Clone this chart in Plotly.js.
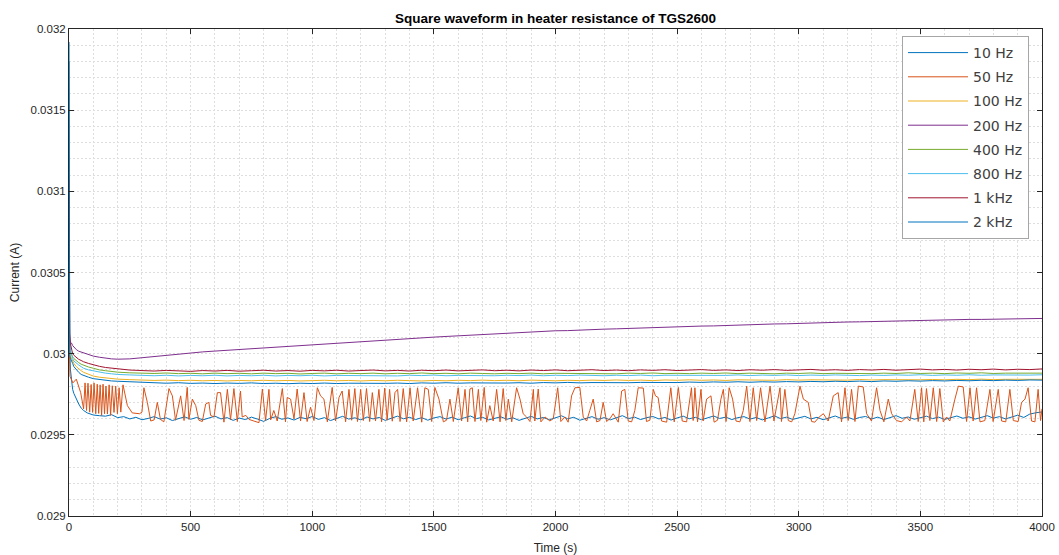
<!DOCTYPE html>
<html>
<head>
<meta charset="utf-8">
<script src="https://cdn.plot.ly/plotly-3.0.1.min.js"></script>
<style>
  html, body { margin: 0; padding: 0; background: #ffffff; }
  #chart { width: 1059px; height: 555px; }
</style>
</head>
<body>
<div id="chart"></div>
<script>
// ---------- DATA ----------
const seriesNames = ["10 Hz", "50 Hz", "100 Hz", "200 Hz", "400 Hz", "800 Hz", "1 kHz", "2 kHz"];
const seriesColors = ["#0072BD", "#D95319", "#EDB120", "#7E2F8E", "#77AC30", "#4DBEEE", "#A2142F", "#0072BD"];

const yTickVals = [0.029, 0.0295, 0.03, 0.0305, 0.031, 0.0315, 0.032];
const yTickText = ["0.029", "0.0295", "0.03", "0.0305", "0.031", "0.0315", "0.032"];
const xTickVals = [0, 500, 1000, 1500, 2000, 2500, 3000, 3500, 4000];
const xTickText = ["0", "500", "1000", "1500", "2000", "2500", "3000", "3500", "4000"];

// time grid (s) for the smooth traces
const tGrid = [
  0, 1, 3, 6, 10, 15, 20, 30, 40, 50, 60, 80, 100, 125, 150, 175, 200,
  250, 300, 350, 400, 450, 500, 550, 600, 650, 700,
  750, 800, 850, 900, 950, 1000, 1050, 1100, 1150, 1200,
  1250, 1300, 1350, 1400, 1450, 1500, 1550, 1600, 1650, 1700,
  1750, 1800, 1850, 1900, 1950, 2000, 2050, 2100, 2150, 2200,
  2250, 2300, 2350, 2400, 2450, 2500, 2550, 2600, 2650, 2700,
  2750, 2800, 2850, 2900, 2950, 3000, 3050, 3100, 3150, 3200,
  3250, 3300, 3350, 3400, 3450, 3500, 3550, 3600, 3650, 3700,
  3750, 3800, 3850, 3900, 3950, 4000
];

// 100 Hz
const i100 = [
  0.0302, 0.03006, 0.03, 0.029985, 0.02997, 0.029955, 0.02994, 0.02992, 0.029905, 0.029895, 0.029885, 0.029872, 0.029862, 0.029855, 0.02985, 0.029846, 0.029843,
  0.02984, 0.029837, 0.029835, 0.029837, 0.029834, 0.029836, 0.029833, 0.029835, 0.029832, 0.029835,
  0.029833, 0.029836, 0.029833, 0.029835, 0.029832, 0.029834, 0.029836, 0.029833, 0.029835, 0.029832,
  0.029835, 0.029833, 0.029836, 0.029834, 0.029832, 0.029835, 0.029833, 0.029836, 0.029834, 0.029837,
  0.029834, 0.029836, 0.029833, 0.029837, 0.029835, 0.029833, 0.029836, 0.029834, 0.029837, 0.029835,
  0.029838, 0.029835, 0.029837, 0.029834, 0.029838, 0.029836, 0.029839, 0.029836, 0.029838, 0.029835,
  0.029839, 0.029837, 0.029839, 0.029836, 0.02984, 0.029837, 0.029839, 0.029838, 0.02984, 0.029837,
  0.029841, 0.029838, 0.02984, 0.029839, 0.029842, 0.029839, 0.029841, 0.029839, 0.029842, 0.02984,
  0.029843, 0.02984, 0.029842, 0.029841, 0.029844, 0.029842
];

// 200 Hz
const i200 = [
  0.0303, 0.03015, 0.03009, 0.03007, 0.030066, 0.03005, 0.03004, 0.030025, 0.030015, 0.03001, 0.030006, 0.029995, 0.029985, 0.029978, 0.029972, 0.029968, 0.029966,
  0.029968, 0.029975, 0.029983, 0.029991, 0.029998, 0.030006, 0.030011, 0.030016, 0.030021, 0.030026,
  0.03003, 0.030034, 0.030039, 0.030043, 0.030048, 0.030053, 0.030058, 0.030063, 0.030068, 0.030073,
  0.030078, 0.030084, 0.030088, 0.030093, 0.030097, 0.030102, 0.030106, 0.03011, 0.030114, 0.030117,
  0.030124, 0.030129, 0.030131, 0.030135, 0.030137, 0.030141, 0.030142, 0.030146, 0.030148, 0.030151,
  0.030153, 0.030156, 0.030158, 0.030161, 0.030162, 0.030166, 0.030167, 0.03017, 0.030171, 0.030174,
  0.030175, 0.030178, 0.03018, 0.030183, 0.030184, 0.030187, 0.030188, 0.030191, 0.030192, 0.030195,
  0.030196, 0.030198, 0.030199, 0.030202, 0.030203, 0.030205, 0.030206, 0.030208, 0.030209, 0.030211,
  0.030211, 0.030213, 0.030214, 0.030216, 0.030215, 0.030217
];

// 400 Hz
const i400 = [
  0.0303, 0.03012, 0.03004, 0.03001, 0.029995, 0.02998, 0.02997, 0.029955, 0.029945, 0.029935, 0.029928, 0.029918, 0.02991, 0.0299, 0.029895, 0.02989, 0.029886,
  0.029882, 0.02988, 0.029878, 0.029881, 0.029877, 0.029879, 0.029876, 0.02988, 0.029877, 0.029879,
  0.029876, 0.02988, 0.029877, 0.029879, 0.029875, 0.029878, 0.02988, 0.029876, 0.029879, 0.029877,
  0.02988, 0.029876, 0.029879, 0.029877, 0.029881, 0.029877, 0.029879, 0.029876, 0.02988, 0.029878,
  0.029876, 0.029879, 0.029877, 0.02988, 0.029876, 0.029879, 0.029878, 0.029881, 0.029877, 0.029879,
  0.029876, 0.02988, 0.029878, 0.029881, 0.029877, 0.029879, 0.029877, 0.02988, 0.029878, 0.029881,
  0.029877, 0.02988, 0.029878, 0.029876, 0.02988, 0.029878, 0.029881, 0.029877, 0.029879, 0.029878,
  0.029881, 0.029877, 0.02988, 0.029878, 0.029882, 0.029878, 0.02988, 0.029877, 0.029881, 0.029879,
  0.029882, 0.029878, 0.02988, 0.029879, 0.029882, 0.02988
];

// 800 Hz
const i800 = [
  0.0319, 0.0304, 0.03008, 0.03002, 0.029995, 0.02997, 0.029955, 0.02994, 0.02993, 0.02992, 0.02991, 0.0299, 0.029893, 0.029886, 0.02988, 0.029876, 0.029872,
  0.029869, 0.029867, 0.029864, 0.029867, 0.029863, 0.029866, 0.029864, 0.029867, 0.029863, 0.029866,
  0.029864, 0.029867, 0.029863, 0.029866, 0.029864, 0.029867, 0.029863, 0.029866, 0.029865, 0.029868,
  0.029864, 0.029866, 0.029863, 0.029867, 0.029865, 0.029868, 0.029864, 0.029866, 0.029865, 0.029867,
  0.029864, 0.029867, 0.029865, 0.029868, 0.029864, 0.029867, 0.029865, 0.029868, 0.029866, 0.029864,
  0.029867, 0.029865, 0.029868, 0.029864, 0.029867, 0.029866, 0.029869, 0.029865, 0.029867, 0.029866,
  0.029869, 0.029865, 0.029868, 0.029866, 0.029869, 0.029865, 0.029868, 0.029866, 0.029869, 0.029867,
  0.029865, 0.029868, 0.029866, 0.029869, 0.029867, 0.02987, 0.029866, 0.029869, 0.029867, 0.02987,
  0.029867, 0.029869, 0.029868, 0.029871, 0.029868, 0.02987
];

// 1 kHz
const i1k = [
  0.03107, 0.03035, 0.03012, 0.03006, 0.030025, 0.03, 0.02999, 0.029975, 0.029965, 0.029958, 0.02995, 0.02994, 0.02993, 0.029922, 0.029915, 0.02991, 0.029905,
  0.029899, 0.029896, 0.029893, 0.029897, 0.029894, 0.029891, 0.029896, 0.029893, 0.029897, 0.029892,
  0.029895, 0.029898, 0.029893, 0.029896, 0.029892, 0.029897, 0.029894, 0.029898, 0.029893, 0.029896,
  0.029899, 0.029894, 0.029897, 0.029893, 0.029898, 0.029895, 0.029899, 0.029894, 0.029897, 0.0299,
  0.029895, 0.029898, 0.029894, 0.029899, 0.029896, 0.0299, 0.029895, 0.029898, 0.029901, 0.029896,
  0.029899, 0.029895, 0.0299, 0.029897, 0.029901, 0.029896, 0.029899, 0.029902, 0.029897, 0.0299,
  0.029896, 0.029901, 0.029898, 0.029902, 0.029897, 0.0299, 0.029903, 0.029898, 0.029901, 0.029897,
  0.029902, 0.029899, 0.029903, 0.029898, 0.029902, 0.029905, 0.0299, 0.029903, 0.029899, 0.029904,
  0.029901, 0.029905, 0.0299, 0.029904, 0.029902, 0.029906
];

// 2 kHz
const i2k = [
  0.0318, 0.03005, 0.02999, 0.02997, 0.02996, 0.02994, 0.02992, 0.0299, 0.029885, 0.029872, 0.029865, 0.029855, 0.029846, 0.02984, 0.029835, 0.029832, 0.02983,
  0.029826, 0.029822, 0.02982, 0.029818, 0.029821, 0.029817, 0.029819, 0.029816, 0.029819, 0.029817,
  0.02982, 0.029816, 0.029818, 0.029815, 0.029818, 0.029816, 0.029819, 0.029816, 0.029818, 0.029817,
  0.02982, 0.029817, 0.029819, 0.029816, 0.02982, 0.029818, 0.029821, 0.029818, 0.02982, 0.029819,
  0.029822, 0.029819, 0.029821, 0.029818, 0.029822, 0.02982, 0.029823, 0.02982, 0.029822, 0.029821,
  0.029824, 0.029821, 0.029823, 0.029822, 0.029825, 0.029822, 0.029825, 0.029823, 0.029826, 0.029824,
  0.029827, 0.029824, 0.029827, 0.029825, 0.029828, 0.029826, 0.029829, 0.029827, 0.02983, 0.029828,
  0.029831, 0.029828, 0.029832, 0.02983, 0.029833, 0.029831, 0.029834, 0.029832, 0.029835, 0.029833,
  0.029836, 0.029834, 0.029837, 0.029835, 0.029838, 0.029837
];

// 10 Hz (own, finer time grid)
const t10 = [
  0, 1, 3, 6, 10, 15, 20, 30, 40, 50, 60, 75,
  100, 125, 150, 175, 200, 225, 250, 275, 300, 325,
  350, 375, 400, 425, 450, 475, 500, 525, 550, 575,
  600, 625, 650, 675, 700, 725, 750, 775, 800, 825,
  850, 875, 900, 925, 950, 975, 1000, 1025, 1050, 1075,
  1100, 1125, 1150, 1175, 1200, 1225, 1250, 1275, 1300, 1325,
  1350, 1375, 1400, 1425, 1450, 1475, 1500, 1525, 1550, 1575,
  1600, 1625, 1650, 1675, 1700, 1725, 1750, 1775, 1800, 1825,
  1850, 1875, 1900, 1925, 1950, 1975, 2000, 2025, 2050, 2075,
  2100, 2125, 2150, 2175, 2200, 2225, 2250, 2275, 2300, 2325,
  2350, 2375, 2400, 2425, 2450, 2475, 2500, 2525, 2550, 2575,
  2600, 2625, 2650, 2675, 2700, 2725, 2750, 2775, 2800, 2825,
  2850, 2875, 2900, 2925, 2950, 2975, 3000, 3025, 3050, 3075,
  3100, 3125, 3150, 3175, 3200, 3225, 3250, 3275, 3300, 3325,
  3350, 3375, 3400, 3425, 3450, 3475, 3500, 3525, 3550, 3575,
  3600, 3625, 3650, 3675, 3700, 3725, 3750, 3775, 3800, 3825,
  3850, 3875, 3900, 3925, 3950, 3975, 4000
];
const i10 = [
  0.03192, 0.0305, 0.03002, 0.0299, 0.02982, 0.02978, 0.029755, 0.02972, 0.02969, 0.029665, 0.02965, 0.029635,
  0.029622, 0.029618, 0.029615, 0.029624, 0.029606, 0.029612, 0.029598, 0.029608, 0.029593, 0.029601,
  0.029612, 0.029597, 0.029605, 0.029588, 0.029602, 0.029611, 0.029596, 0.029607, 0.029592, 0.029604,
  0.029615, 0.029598, 0.029606, 0.029589, 0.029603, 0.029594, 0.029609, 0.029597, 0.029583, 0.029601,
  0.029612, 0.029596, 0.029604, 0.029591, 0.029608, 0.029599, 0.029613, 0.029595, 0.029606, 0.029588,
  0.029602, 0.029614, 0.029597, 0.029605, 0.029592, 0.02961, 0.029598, 0.029607, 0.029589, 0.029603,
  0.029615, 0.029599, 0.029608, 0.029594, 0.029606, 0.02959, 0.029604, 0.029612, 0.029597, 0.029609,
  0.029593, 0.029605, 0.029616, 0.0296, 0.029608, 0.029592, 0.029603, 0.029611, 0.029596, 0.029605,
  0.029589, 0.029602, 0.029614, 0.029598, 0.029607, 0.029593, 0.029604, 0.029617, 0.029599, 0.029608,
  0.02959, 0.029603, 0.029612, 0.029596, 0.029606, 0.029592, 0.029605, 0.029618, 0.0296, 0.029609,
  0.029594, 0.029606, 0.029613, 0.029598, 0.029607, 0.029591, 0.029604, 0.029615, 0.029599, 0.029608,
  0.029593, 0.029605, 0.029616, 0.029601, 0.029609, 0.029594, 0.029606, 0.029612, 0.029597, 0.029607,
  0.029592, 0.029604, 0.029617, 0.0296, 0.029609, 0.029595, 0.029606, 0.029614, 0.029598, 0.029608,
  0.029593, 0.029605, 0.029616, 0.029601, 0.02961, 0.029595, 0.029607, 0.029613, 0.029598, 0.029609,
  0.029594, 0.029606, 0.029618, 0.029602, 0.02961, 0.029596, 0.029607, 0.029615, 0.0296, 0.029609,
  0.029595, 0.029607, 0.029616, 0.029602, 0.029611, 0.029597, 0.029608, 0.029618, 0.029603, 0.029612,
  0.029598, 0.02961, 0.029621, 0.029607, 0.029628, 0.029636, 0.029641
];

// 50 Hz (switching trace: vertices read at its turning points)
const t50 = [
  0, 4, 16, 30, 48, 60, 66, 72, 78, 85,
  91, 97, 103, 110, 116, 122, 128, 134, 140, 146,
  152, 158, 165, 171, 178, 185, 192, 199, 206, 213,
  222, 240, 260, 290, 300, 308, 322, 336, 350, 363,
  376, 390, 411, 425, 438, 459, 473, 486, 493, 507,
  521, 534, 548, 562, 575, 582, 596, 610, 623, 637,
  651, 664, 678, 692, 705, 712, 727, 740, 760, 781,
  795, 808, 822, 829, 842, 856, 877, 890, 897, 911,
  925, 938, 952, 966, 979, 993, 1007, 1021, 1034, 1048,
  1062, 1082, 1096, 1110, 1123, 1137, 1151, 1162, 1175, 1186,
  1199, 1210, 1223, 1236, 1247, 1260, 1274, 1285, 1298, 1308,
  1318, 1329, 1340, 1351, 1361, 1374, 1388, 1402, 1415, 1433,
  1450, 1463, 1477, 1491, 1504, 1521, 1539, 1552, 1566, 1580,
  1600, 1614, 1628, 1639, 1648, 1658, 1669, 1683, 1693, 1707,
  1717, 1730, 1744, 1758, 1772, 1785, 1796, 1806, 1820, 1840,
  1854, 1867, 1881, 1895, 1909, 1915, 1929, 1940, 1957, 1977,
  1991, 2009, 2022, 2039, 2052, 2066, 2080, 2100, 2114, 2128,
  2141, 2155, 2169, 2183, 2196, 2210, 2224, 2237, 2258, 2272,
  2285, 2299, 2313, 2326, 2340, 2361, 2374, 2388, 2402, 2411,
  2422, 2436, 2457, 2474, 2488, 2505, 2521, 2539, 2559, 2566,
  2573, 2584, 2598, 2607, 2621, 2639, 2652, 2666, 2680, 2690,
  2701, 2714, 2728, 2742, 2758, 2772, 2786, 2799, 2813, 2827,
  2843, 2861, 2882, 2898, 2923, 2929, 2943, 2957, 2971, 2984,
  3005, 3019, 3039, 3053, 3066, 3084, 3101, 3121, 3142, 3162,
  3176, 3190, 3203, 3217, 3231, 3245, 3265, 3279, 3299, 3320,
  3334, 3350, 3368, 3382, 3402, 3423, 3443, 3457, 3477, 3491,
  3505, 3514, 3525, 3539, 3553, 3567, 3580, 3594, 3608, 3621,
  3642, 3656, 3676, 3690, 3704, 3717, 3731, 3745, 3765, 3786,
  3799, 3820, 3834, 3851, 3868, 3882, 3902, 3916, 3930, 3943,
  3957, 3971, 3984, 3994, 4000
];
const i50 = [
  0.03014, 0.02986, 0.02982, 0.029843, 0.02976, 0.02966, 0.02982, 0.02965, 0.029818, 0.02964,
  0.02981, 0.029638, 0.02982, 0.02963, 0.029812, 0.029632, 0.029808, 0.02962, 0.029812, 0.02963,
  0.0298, 0.029628, 0.029808, 0.02962, 0.029802, 0.029638, 0.0298, 0.02963, 0.02979, 0.02964,
  0.029808, 0.02968, 0.029635, 0.02963, 0.02964, 0.02979, 0.0297, 0.029585, 0.029592, 0.0297,
  0.029595, 0.02958, 0.029785, 0.02974, 0.02959, 0.02974, 0.029588, 0.029792, 0.029595, 0.02972,
  0.02968, 0.02959, 0.029582, 0.02969, 0.0297, 0.02962, 0.02961, 0.02976, 0.02976, 0.029578,
  0.02978, 0.029592, 0.029785, 0.029582, 0.02977, 0.02961, 0.02962, 0.029595, 0.029585, 0.029575,
  0.029782, 0.029588, 0.02978, 0.029592, 0.02965, 0.029585, 0.029785, 0.02958, 0.02973, 0.02972,
  0.029598, 0.029782, 0.029585, 0.02976, 0.029582, 0.02967, 0.029588, 0.02979, 0.02974, 0.02972,
  0.02958, 0.029792, 0.029585, 0.02973, 0.02977, 0.02958, 0.02978, 0.02959, 0.029785, 0.029582,
  0.02978, 0.029588, 0.029785, 0.029582, 0.02976, 0.029585, 0.02978, 0.02958, 0.029788, 0.02959,
  0.02978, 0.029584, 0.02976, 0.02978, 0.029582, 0.029785, 0.02958, 0.02979, 0.029585, 0.02979,
  0.029578, 0.02979, 0.02978, 0.029582, 0.029792, 0.02972, 0.02958, 0.02959, 0.02972, 0.029582,
  0.02979, 0.029585, 0.02978, 0.02958, 0.029782, 0.02979, 0.029582, 0.02978, 0.029588, 0.029792,
  0.029578, 0.02968, 0.029585, 0.02978, 0.02958, 0.029785, 0.029588, 0.02972, 0.02958, 0.02979,
  0.02972, 0.02963, 0.02961, 0.029582, 0.02978, 0.029585, 0.029782, 0.02958, 0.02961, 0.029585,
  0.0296, 0.02979, 0.029582, 0.02961, 0.029578, 0.02974, 0.02979, 0.029792, 0.02961, 0.029585,
  0.02965, 0.02972, 0.02958, 0.029588, 0.0297, 0.029582, 0.0296, 0.02963, 0.029578, 0.02977,
  0.02978, 0.029585, 0.02958, 0.02965, 0.02979, 0.029788, 0.029582, 0.02959, 0.02978, 0.02974,
  0.02973, 0.029585, 0.029578, 0.02979, 0.02958, 0.029792, 0.029585, 0.02958, 0.02979, 0.029588,
  0.02979, 0.02958, 0.02978, 0.029585, 0.02972, 0.02974, 0.029578, 0.02959, 0.02972, 0.02978,
  0.029582, 0.02979, 0.02972, 0.029585, 0.02958, 0.02965, 0.0298, 0.029582, 0.02979, 0.029588,
  0.02979, 0.02958, 0.0298, 0.029585, 0.02979, 0.029582, 0.02978, 0.029588, 0.02958, 0.02963,
  0.0298, 0.02972, 0.0297, 0.029582, 0.029578, 0.02961, 0.02963, 0.029585, 0.02974, 0.02976,
  0.02958, 0.02979, 0.029588, 0.02978, 0.029582, 0.0298, 0.029795, 0.02963, 0.029585, 0.02979,
  0.02965, 0.02958, 0.02972, 0.02963, 0.029588, 0.02958, 0.02961, 0.029585, 0.02978, 0.029582,
  0.02979, 0.02958, 0.029785, 0.029588, 0.02979, 0.029582, 0.029785, 0.02958, 0.02961, 0.029585,
  0.02972, 0.0298, 0.029795, 0.029582, 0.02979, 0.029585, 0.02979, 0.02958, 0.029588, 0.02978,
  0.029582, 0.02978, 0.029585, 0.02958, 0.02978, 0.029588, 0.029582, 0.0297, 0.02972, 0.02979,
  0.029585, 0.02958, 0.02978, 0.029588, 0.02966
];

// ---------- CHART ----------
const xs = [t10, t50, tGrid, tGrid, tGrid, tGrid, tGrid, tGrid];
const ys = [i10, i50, i100, i200, i400, i800, i1k, i2k];

const traces = seriesNames.map((name, k) => ({
  type: "scatter",
  mode: "lines",
  name: name,
  x: xs[k],
  y: ys[k],
  legendgroup: "g" + k,
  line: { color: seriesColors[k], width: 1 },
  hoverinfo: "x+y+name"
}));

const axisFont = { family: "Liberation Sans, Arial, sans-serif", size: 11.5, color: "#262626" };
const gridStyle = { showgrid: true, gridcolor: "#dedede", griddash: "2px,2px", gridwidth: 1 };

const layout = {
  width: 1059,
  height: 555,
  margin: { l: 69, r: 17, t: 29, b: 39, pad: 0 },
  paper_bgcolor: "#ffffff",
  plot_bgcolor: "#ffffff",
  showlegend: true,
  title: {
    text: "<b>Square waveform in heater resistance of TGS2600</b>",
    font: { family: "Liberation Sans, Arial, sans-serif", size: 13.5, color: "#000000" },
    x: 0.5, xref: "paper", xanchor: "center",
    y: 1 - 18 / 555, yref: "container", yanchor: "middle"
  },
  xaxis: Object.assign({
    range: [0, 4000],
    tickmode: "array",
    tickvals: xTickVals,
    ticktext: xTickText,
    ticks: "inside",
    ticklen: 5,
    tickcolor: "#262626",
    tickfont: axisFont,
    showline: true,
    linecolor: "#262626",
    linewidth: 1,
    mirror: "ticks",
    zeroline: false,
    minor: { dtick: 100, tick0: 0, showgrid: true, gridcolor: "#dedede", griddash: "2px,2px", gridwidth: 1, ticks: "" },
    title: { text: "Time (s)", font: { family: "Liberation Sans, Arial, sans-serif", size: 12, color: "#262626" }, standoff: 11 }
  }, gridStyle),
  yaxis: Object.assign({
    range: [0.029, 0.032],
    tickmode: "array",
    tickvals: yTickVals,
    ticktext: yTickText,
    ticks: "inside",
    ticklen: 5,
    tickcolor: "#262626",
    tickfont: axisFont,
    showline: true,
    linecolor: "#262626",
    linewidth: 1,
    mirror: "ticks",
    zeroline: false,
    minor: { dtick: 0.0001, tick0: 0.029, showgrid: true, gridcolor: "#dedede", griddash: "2px,2px", gridwidth: 1, ticks: "" },
    title: { text: "Current (A)", font: { family: "Liberation Sans, Arial, sans-serif", size: 12, color: "#262626" }, standoff: 8 }
  }, gridStyle),
  legend: {
    x: (1029 - 69) / 973,
    xanchor: "right",
    y: (516 - 36) / 487,
    yanchor: "top",
    bgcolor: "#ffffff",
    bordercolor: "#a6a6a6",
    borderwidth: 1,
    font: { family: "DejaVu Sans, sans-serif", size: 14, color: "#404040" },
    itemwidth: 60,
    tracegroupgap: 3,
    traceorder: "grouped"
  }
};

Plotly.newPlot("chart", traces, layout, { displayModeBar: false, staticPlot: false });
</script>
</body>
</html>
